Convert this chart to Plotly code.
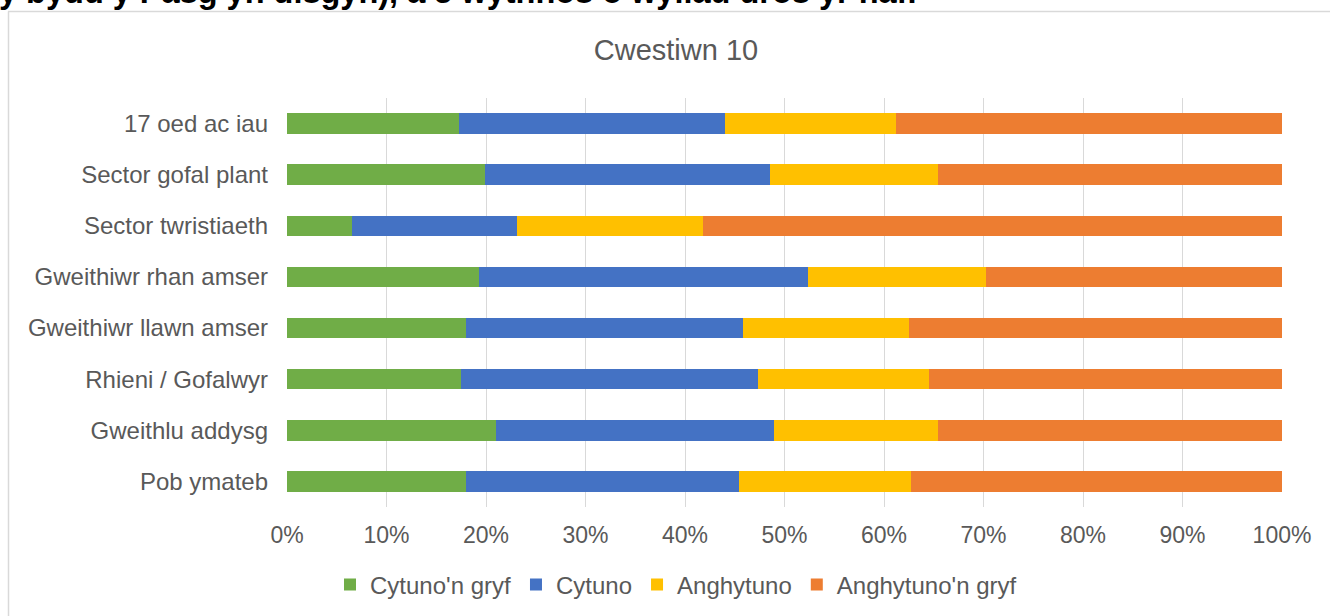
import plotly.graph_objects as go

categories = ["17 oed ac iau", "Sector gofal plant", "Sector twristiaeth", "Gweithiwr rhan amser",
              "Gweithiwr llawn amser", "Rhieni / Gofalwyr", "Gweithlu addysg", "Pob ymateb"]
series_names = ["Cytuno'n gryf", "Cytuno", "Anghytuno", "Anghytuno'n gryf"]
cytuno_gryf = [17.3, 19.9, 6.5, 19.3, 18.0, 17.5, 21.0, 18.0]
cytuno = [26.7, 28.6, 16.6, 33.1, 27.8, 29.8, 27.9, 27.4]
anghytuno = [17.2, 16.9, 18.7, 17.9, 16.7, 17.2, 16.5, 17.3]
anghytuno_gryf = [38.8, 34.6, 58.2, 29.7, 37.5, 35.5, 34.6, 37.3]
tick_vals = [0, 10, 20, 30, 40, 50, 60, 70, 80, 90, 100]
tick_text = [f"{v}%" for v in tick_vals]
title_text = "Cwestiwn 10"
top_text = "y bydd y Pasg yn disgyn), a 5 wythnos o wyliau dros yr haf."

colors = ["#70AD47", "#4472C4", "#FFC000", "#ED7D31"]
values = [cytuno_gryf, cytuno, anghytuno, anghytuno_gryf]

fig = go.Figure()
for name, vals, col in zip(series_names, values, colors):
    fig.add_trace(go.Bar(
        y=categories, x=vals, name=name, orientation="h",
        marker=dict(color=col, line=dict(width=0)),
    ))

W, H = 1330, 616
L, R, T, B = 287, 1282, 98, 507
font = "Liberation Sans, Arial, sans-serif"
grey = "#595959"

def px(x):
    return (x - L) / (R - L)

def py(y):
    return (B - y) / (B - T)

fig.update_layout(
    width=W, height=H,
    margin=dict(l=L, r=W - R, t=T, b=H - B),
    barmode="stack", bargap=0.6,
    plot_bgcolor="white", paper_bgcolor="white",
    font=dict(family=font, size=24, color=grey),
    title=dict(text=title_text, x=676 / W, xref="container", xanchor="center",
               y=1 - 50 / H, yref="container", yanchor="middle",
               font=dict(size=29, color=grey, family=font)),
    showlegend=True,
    legend=dict(orientation="h", xref="container", yref="container",
                x=676 / W, xanchor="center", y=1 - 585 / H, yanchor="middle",
                font=dict(size=24, color=grey, family=font),
                traceorder="normal", itemwidth=30),
    xaxis=dict(range=[0, 100], tickvals=tick_vals, ticktext=tick_text,
               showgrid=True, gridcolor="#d9d9d9", gridwidth=1, zeroline=False,
               showline=False, ticks="", tickfont=dict(size=23, color=grey),
               ticklabelstandoff=12, fixedrange=True),
    yaxis=dict(autorange="reversed", categoryorder="array", categoryarray=categories,
               showgrid=False, zeroline=False, showline=False, ticks="",
               tickfont=dict(size=24, color=grey), ticklabelstandoff=18),
    shapes=[
        dict(type="line", xref="paper", yref="paper", x0=px(8), x1=px(1340), y0=py(11.5), y1=py(11.5),
             line=dict(color="#d9d9d9", width=1.5)),
        dict(type="line", xref="paper", yref="paper", x0=px(8.5), x1=px(8.5), y0=py(11.5), y1=py(640),
             line=dict(color="#d9d9d9", width=1.5)),
    ],
    annotations=[
        dict(text="<b>" + top_text + "</b>", xref="paper", yref="paper",
             x=px(-3), y=py(12), xanchor="left", yanchor="bottom", showarrow=False,
             font=dict(size=32.5, color="#000000", family=font)),
    ],
)

fig.write_html("out.html", config={"displayModeBar": False},
               post_script="document.body.style.margin='0px';document.body.style.overflow='hidden';")
